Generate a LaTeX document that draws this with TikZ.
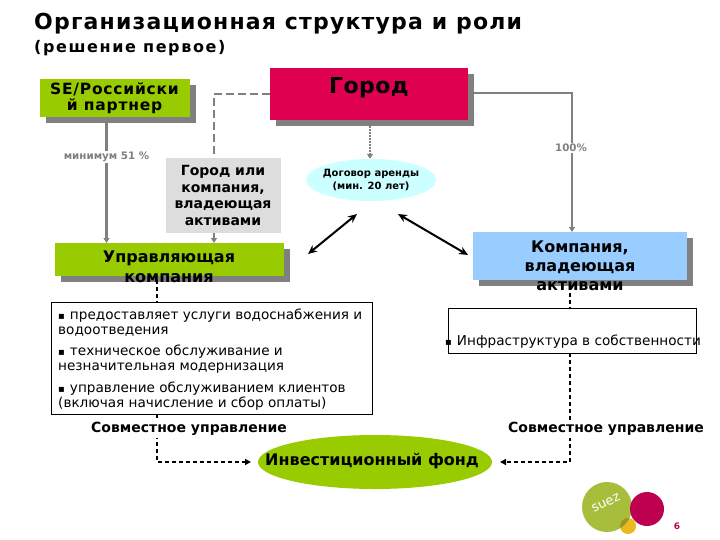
\documentclass[tikz,border=0pt]{standalone}
\usepackage{fontspec}
\setmainfont{DejaVu Sans}
\usetikzlibrary{arrows.meta,calc,shapes.geometric}
\definecolor{grn}{RGB}{153,204,0}
\definecolor{crim}{RGB}{224,0,80}
\definecolor{shad}{RGB}{128,128,128}
\definecolor{lgray}{RGB}{221,221,221}
\definecolor{blu}{RGB}{153,204,255}
\definecolor{cyn}{RGB}{204,255,255}
\definecolor{lg}{RGB}{166,190,60}
\definecolor{lc}{RGB}{190,0,80}
\definecolor{ly}{RGB}{235,185,30}
\newcommand{\sqb}{{\fontsize{10}{10}\selectfont▪}\hspace{5pt}}
\tikzset{
 x=1pt,y=-1pt,
 boxn/.style={inner sep=0pt,align=center},
 gline/.style={draw=shad,line width=2.4pt},
 gdash/.style={gline,dash pattern=on 8pt off 4pt},
 gtip/.style={-{Triangle[length=5pt,width=6pt]}},
 bdot/.style={draw=black,line width=1.4pt,dash pattern=on 4pt off 3pt},
 btip/.style={-{Triangle[length=6pt,width=6pt]}},
 twoway/.style={draw=black,line width=2pt,{Stealth[length=9pt,width=8pt]}-{Stealth[length=9pt,width=8pt]}},
 listbox/.style={draw=black,line width=0.8pt,fill=white},
 lab/.style={fill=white,inner sep=1.5pt,text=shad,font=\fontsize{10.3}{11}\selectfont\bfseries},
 capt/.style={fill=white,inner sep=2pt,font=\fontsize{14}{15}\selectfont\bfseries},
 listt/.style={anchor=north west,inner sep=0pt,align=left,font=\fontsize{13.6}{15.5}\selectfont}
}
\begin{document}
\begin{tikzpicture}
\useasboundingbox (0,0) rectangle (720,540);
\fill[white] (0,0) rectangle (720,540);
% title
\node[anchor=west,inner sep=0pt,font=\fontsize{22}{24}\selectfont\bfseries\addfontfeature{LetterSpace=5.4}] (t1) at (34,24) {Организационная структура и роли};
\node[anchor=west,inner sep=0pt,font=\fontsize{16}{18}\selectfont\bfseries\addfontfeature{LetterSpace=10}] (t2) at (34,48) {(решение первое)};
% shadows
\fill[shad] (46,85) rectangle (196,123);
\fill[shad] (276,74) rectangle (474,126);
\fill[shad] (61,249) rectangle (290,282);
\fill[shad] (479,238) rectangle (693,286);
% boxes
\path[fill=grn] (40,79) rectangle (190,117);
\coordinate (seS) at (106.5,123);
\path[fill=crim] (270,68) rectangle (468,120);
\path[fill=lgray] (166,158) rectangle (281,233);
\path[fill=grn] (55,243) rectangle (284,276);
\path[fill=blu] (473,232) rectangle (687,280);
\node[ellipse,fill=cyn,minimum width=130pt,minimum height=42pt,inner sep=0pt] (lease) at (371,180) {};
\node[ellipse,fill=grn,minimum width=234pt,minimum height=54pt,inner sep=0pt] (fund) at (375,462) {};
% named anchors
\coordinate (cityW) at (270,94);
\coordinate (cityE) at (474,93);
\coordinate (cityS) at (370,126);
\coordinate (ownN) at (214,158);
\coordinate (ownS) at (214,233);
\coordinate (mgrN1) at (106.5,243);
\coordinate (mgrN2) at (214,243);
\coordinate (mgrS) at (157,280);
\coordinate (compN) at (572,232);
\coordinate (compS) at (570,286);
\coordinate (listN) at (157,302.5);
\coordinate (listS) at (157,414);
\coordinate (infN) at (570,308);
\coordinate (infS) at (570,353);
\coordinate (fundW) at (251,462);
\coordinate (fundE) at (500,462);
% connectors
\draw[gline,gtip] (seS) -- (mgrN1);
\draw[gdash] (cityW) -| (ownN);
\draw[gline,gtip] (ownS) -- (mgrN2);
\draw[draw=shad,line width=2pt,dash pattern=on 2pt off 1pt,-{Triangle[length=5pt,width=6pt]}] (cityS) -- (lease.north -| cityS);
\draw[gline,gtip] (cityE) -| (compN);
\draw[twoway] (357,214) -- (308,254);
\draw[twoway] (398,214) -- (468,255);
\draw[bdot] (mgrS) -- (listN);
\draw[bdot] (compS) -- (infN);
\draw[bdot,btip] (listS) |- (fundW);
\draw[bdot,btip] (infS) |- (fundE);
% list boxes
\draw[listbox] (51.5,302.5) rectangle (372.5,414.5);
\draw[listbox] (448.5,308.5) rectangle (696.5,353.5);
% labels
\node[boxn,font=\fontsize{15.5}{16.5}\selectfont\bfseries\addfontfeature{LetterSpace=5}] (se) at (114.5,98) {SE/Российски\\й партнер};
\node[boxn,font=\fontsize{22}{24}\selectfont\bfseries\addfontfeature{LetterSpace=2}] (city) at (369,88) {Город};
\node[boxn,font=\fontsize{14}{16.7}\selectfont\bfseries] (own) at (223,195.5) {Город или\\компания,\\владеющая\\активами};
\node[font=\fontsize{10}{13}\selectfont\bfseries,align=center,inner sep=0pt] (leaseT) at (371,180) {Договор аренды\\(мин. 20 лет)};
\node[boxn,font=\fontsize{16}{20.5}\selectfont\bfseries] (mgr) at (169,267) {Управляющая\\компания};
\node[boxn,font=\fontsize{16}{19}\selectfont\bfseries] (comp) at (580,265.5) {Компания,\\владеющая\\активами};
\node[boxn,font=\fontsize{16}{18}\selectfont\bfseries] (fundT) at (372,461) {Инвестиционный фонд};
\node[lab] (p51) at (106.5,157) {минимум 51 \%};
\node[lab] (p100) at (571,148) {100\%};
\node[capt] (c1) at (189,429) {Совместное управление};
\node[capt] (c2) at (606,429) {Совместное управление};
\node[listt] (li1) at (58,308.5) {\sqb предоставляет услуги водоснабжения и\\водоотведения};
\node[listt] (li2) at (58,344.5) {\sqb техническое обслуживание и\\незначительная модернизация};
\node[listt] (li3) at (58,381.5) {\sqb управление обслуживанием клиентов\\(включая начисление и сбор оплаты)};
\node[listt,anchor=west] (inf) at (445,342) {\sqb Инфраструктура в собственности};
% logo
\fill[lg] (607,507) circle (25);
\fill[lc] (647,509) circle (17);
\fill[ly] (628,526) circle (8);
\begin{scope}
\clip (607,507) circle (25);
\fill[lg!70!black!70!ly] (628,526) circle (8);
\end{scope}
\node[text=white,rotate=25,font=\fontsize{13}{13}\selectfont,inner sep=0pt] (suez) at (606,503) {suez};
\node[text=lc,font=\fontsize{9}{10}\selectfont\bfseries,inner sep=0pt] (pg) at (677,526) {6};
\end{tikzpicture}
\end{document}
